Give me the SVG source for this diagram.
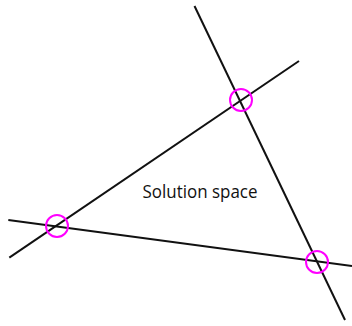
<svg xmlns="http://www.w3.org/2000/svg" width="352" height="326" viewBox="0 0 352 326">
<style>
.ln{stroke:#111;stroke-width:2;fill:none;stroke-linecap:butt}
.pt{stroke:#f0f;stroke-width:2;fill:none}
.lb{font-family:"Open Sans",sans-serif;font-size:18.5px;fill:#111}
</style>
<rect width="352" height="326" fill="#fff"/>
<g id="connectors">
<line class="ln" x1="194.5" y1="6" x2="345" y2="320"/>
<line class="ln" x1="9.3" y1="257.7" x2="299" y2="61"/>
<line class="ln" x1="8.3" y1="220" x2="352" y2="266"/>
</g>
<g id="p1"><circle class="pt" cx="241" cy="100" r="11"/></g>
<g id="p2"><circle class="pt" cx="57" cy="226" r="11"/></g>
<g id="p3"><circle class="pt" cx="317" cy="262" r="11"/></g>
<g id="label"><text class="lb" x="142.5" y="198" textLength="115" lengthAdjust="spacingAndGlyphs">Solution space</text></g>
</svg>
